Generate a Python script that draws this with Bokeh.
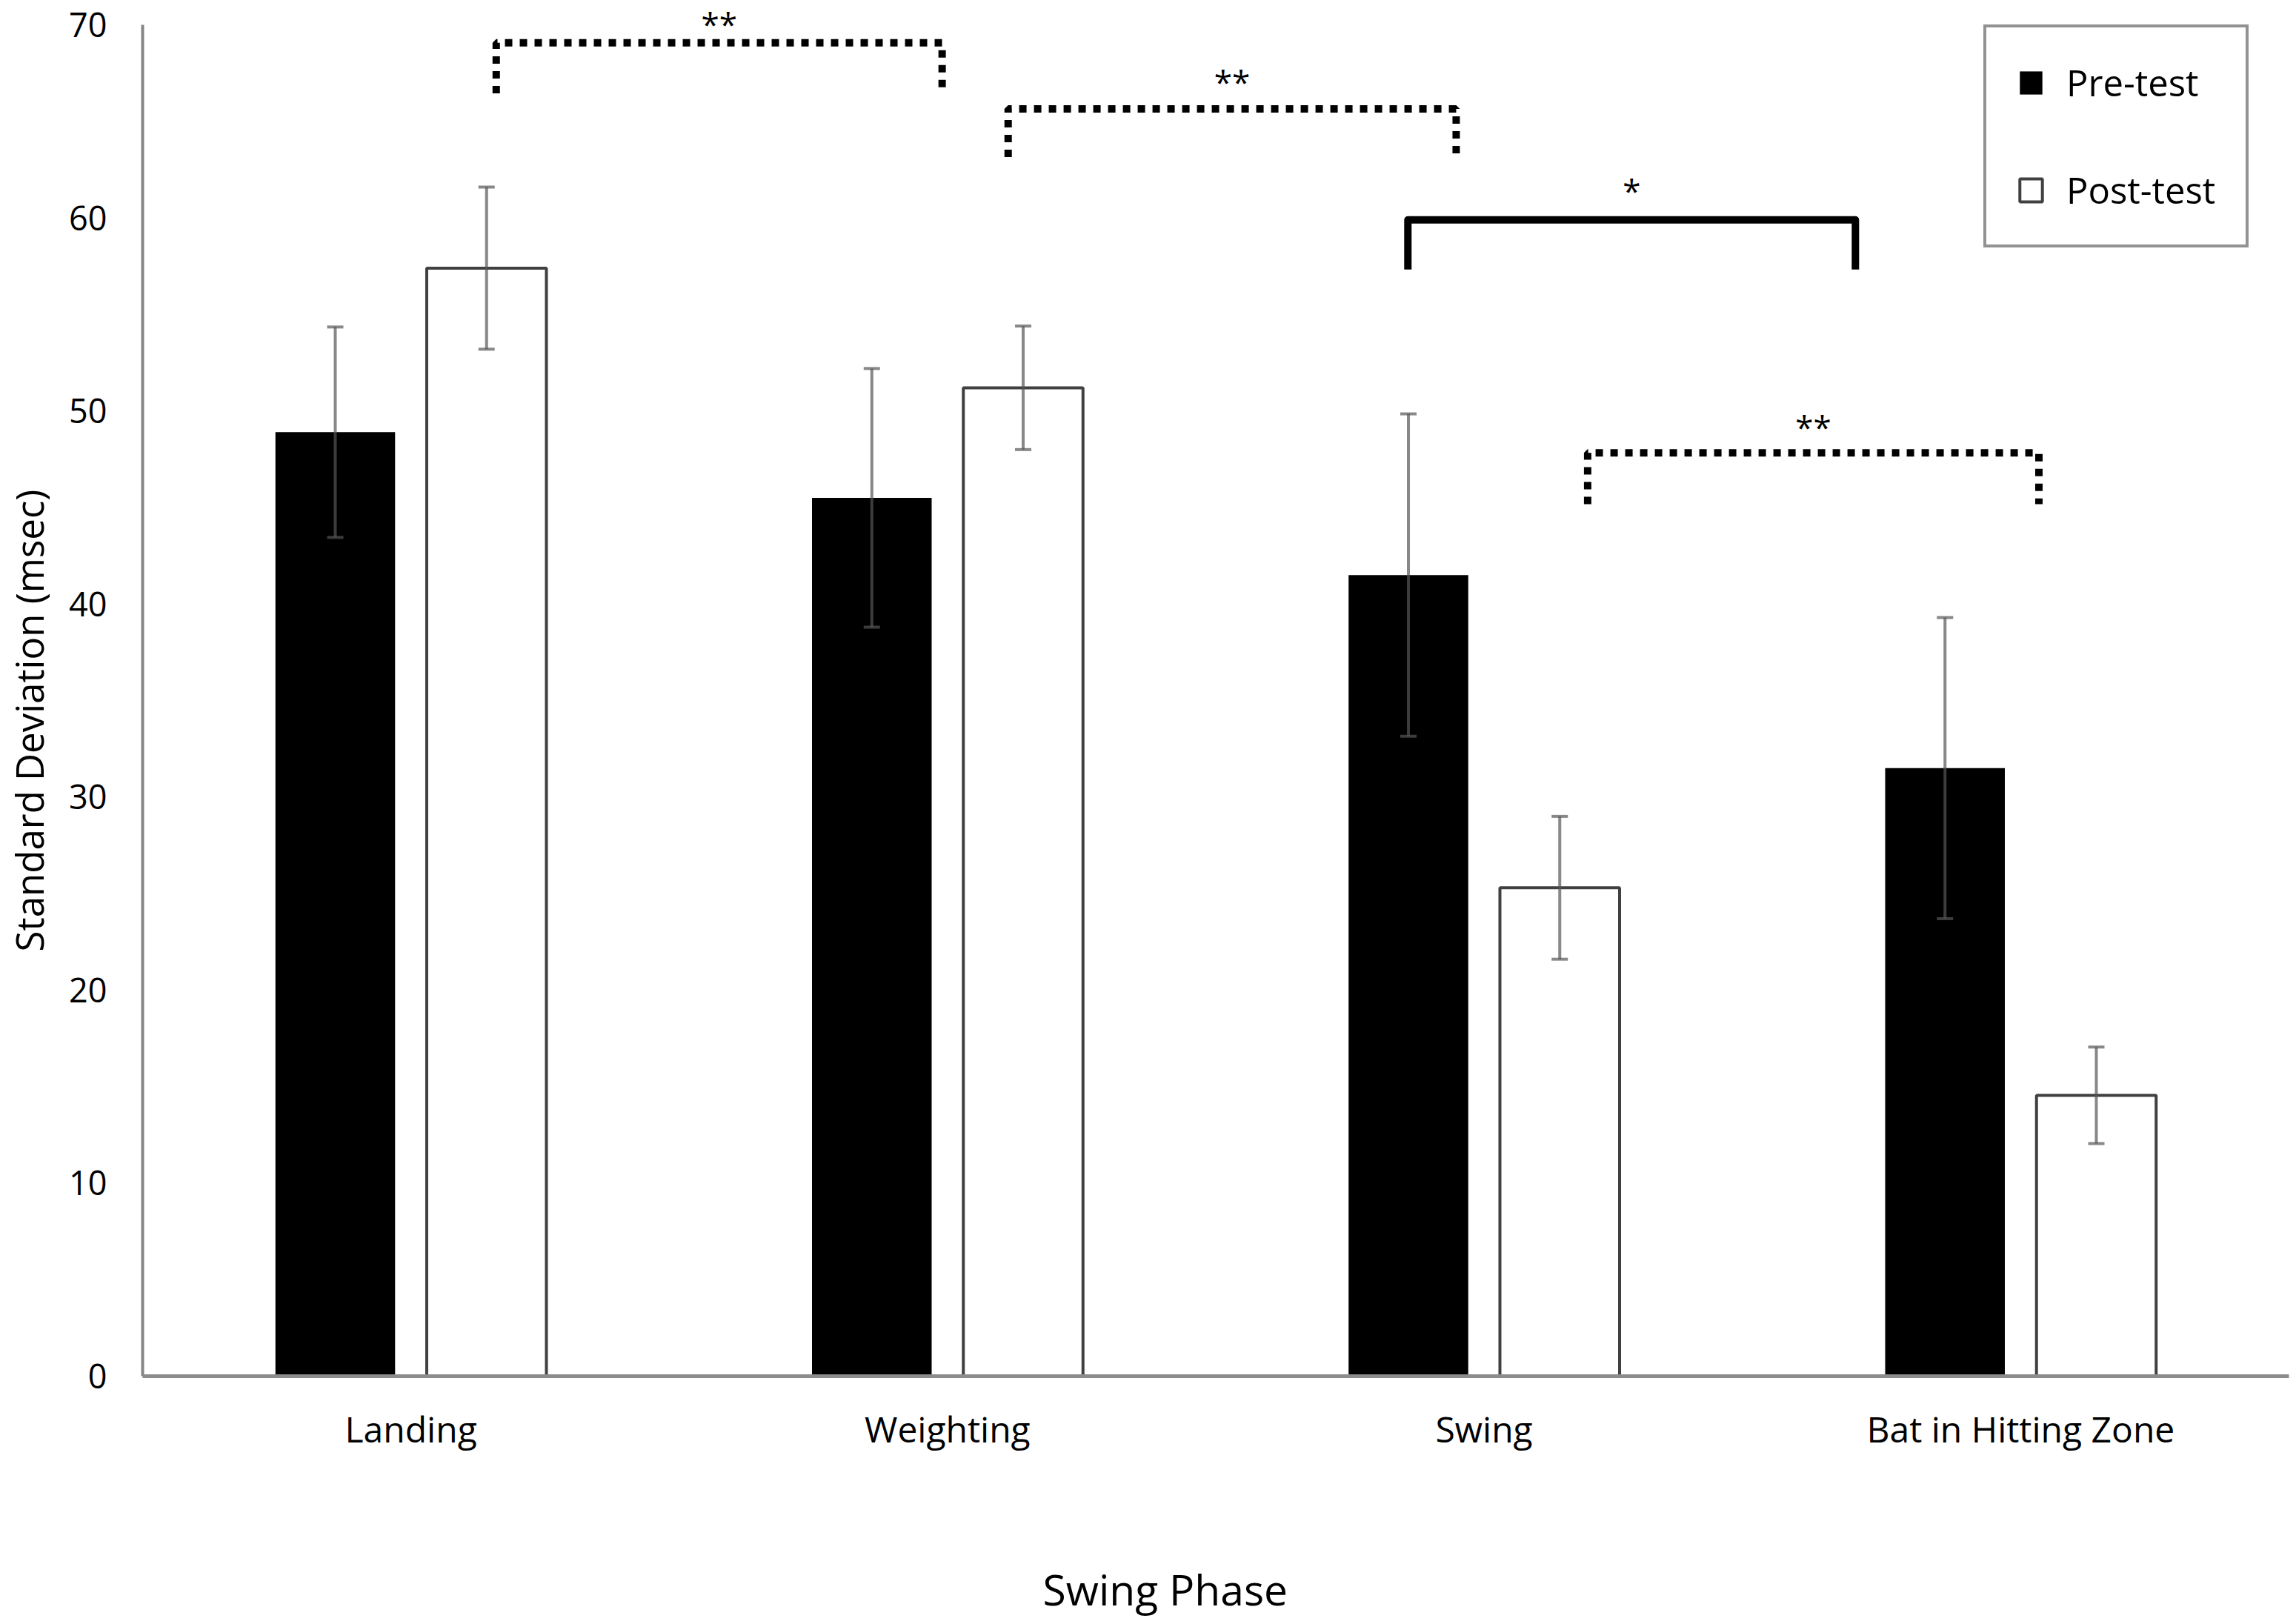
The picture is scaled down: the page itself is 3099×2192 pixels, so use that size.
from bokeh.plotting import figure
from bokeh.models import ColumnDataSource, Whisker, TeeHead, FixedTicker, Title, LinearAxis
from bokeh.embed import file_html
from bokeh.resources import INLINE
from bokeh.core.properties import value

# ---------------- data ----------------
categories = ["Landing", "Weighting", "Swing", "Bat in Hitting Zone"]
pre_test = [48.9, 45.5, 41.5, 31.5]
pre_err = [5.45, 6.7, 8.35, 7.8]
post_test = [57.4, 51.2, 25.3, 14.55]
post_err = [4.2, 3.2, 3.7, 2.5]
y_ticks = [0, 10, 20, 30, 40, 50, 60, 70]

# significance brackets (x in category units, y in msec)
bracket_start = [0.659, 1.613, 2.358, 2.693]
bracket_end = [1.490, 2.448, 3.192, 3.534]
bracket_top = [69.07, 65.65, 59.9, 47.83]
bracket_foot = [66.45, 63.15, 57.33, 45.17]
bracket_label = ["**", "**", "*", "**"]
bracket_label_y = [70.3, 67.3, 61.67, 49.4]
bracket_dotted = [True, True, False, True]

FONT = "Open Sans"
OFFSET = 0.141
BAR_W = 0.223

pre_x = [i + 0.5 - OFFSET for i in range(len(categories))]
post_x = [i + 0.5 + OFFSET for i in range(len(categories))]

pre_src = ColumnDataSource(dict(
    x=pre_x, top=pre_test,
    upper=[m + e for m, e in zip(pre_test, pre_err)],
    lower=[m - e for m, e in zip(pre_test, pre_err)]))
post_src = ColumnDataSource(dict(
    x=post_x, top=post_test,
    upper=[m + e for m, e in zip(post_test, post_err)],
    lower=[m - e for m, e in zip(post_test, post_err)]))

p = figure(width=3091, height=2184, x_range=(0, len(categories)), y_range=(0, 71.27),
           output_backend="svg", toolbar_location=None,
           min_border_left=192, min_border_right=2, min_border_top=0, min_border_bottom=327)
p.outline_line_color = None
p.xgrid.grid_line_color = None
p.ygrid.grid_line_color = None
p.background_fill_color = "white"
p.border_fill_color = "white"

# bars
p.vbar(x="x", top="top", width=BAR_W, source=pre_src, fill_color="black",
       line_color=None, legend_label="Pre-test")
p.vbar(x="x", top="top", width=BAR_W, source=post_src, fill_color="white",
       line_color="#404040", line_width=4, legend_label="Post-test")

# error bars
for src in (pre_src, post_src):
    w = Whisker(base="x", upper="upper", lower="lower", source=src, level="overlay",
                line_color="#555555", line_alpha=0.7, line_width=4,
                upper_head=TeeHead(size=22, line_color="#555555", line_alpha=0.7, line_width=4),
                lower_head=TeeHead(size=22, line_color="#555555", line_alpha=0.7, line_width=4))
    p.add_layout(w)

# brackets
dot_xs, dot_ys, sol_xs, sol_ys = [], [], [], []
for x0, x1, t, f, d in zip(bracket_start, bracket_end, bracket_top, bracket_foot, bracket_dotted):
    xs = [x0, x0, x1, x1]
    ys = [f, t, t, f]
    if d:
        dot_xs.append(xs); dot_ys.append(ys)
    else:
        sol_xs.append(xs); sol_ys.append(ys)
p.multi_line(xs=dot_xs, ys=dot_ys, line_color="black", line_width=10,
             line_dash="10 10", line_cap="butt")
p.multi_line(xs=sol_xs, ys=sol_ys, line_color="black", line_width=10,
             line_join="round", line_cap="butt")

star_src = ColumnDataSource(dict(
    x=[(a + b) / 2 for a, b in zip(bracket_start, bracket_end)],
    y=[v - 0.23 for v in bracket_label_y],
    text=bracket_label))
p.text(x="x", y="y", text="text", source=star_src, text_align="center",
       text_baseline="middle", text_font=value(FONT), text_font_size="44px",
       text_color="black")

# x axis
xa = p.xaxis[0]
xa.ticker = FixedTicker(ticks=[i + 0.5 for i in range(len(categories))])
xa.major_label_overrides = {i + 0.5: c for i, c in enumerate(categories)}
xa.axis_line_color = "#8c8c8c"
xa.axis_line_width = 5
xa.major_tick_line_color = None
xa.minor_tick_line_color = None
xa.major_tick_out = 0
xa.major_tick_in = 0
xa.major_label_text_font = FONT
xa.major_label_text_font_size = "48px"
xa.major_label_text_color = "black"
xa.major_label_standoff = 38

# y axis
ya = p.yaxis[0]
ya.ticker = FixedTicker(ticks=y_ticks)
ya.bounds = (y_ticks[0], y_ticks[-1])
ya.axis_line_color = "#868686"
ya.axis_line_width = 4
ya.major_tick_line_color = None
ya.minor_tick_line_color = None
ya.major_tick_out = 0
ya.major_tick_in = 0
ya.major_label_text_font = FONT
ya.major_label_text_font_size = "45px"
ya.major_label_text_color = "black"
ya.major_label_standoff = 48


def spacer_axis(gap):
    # a blank axis (one white tick, no label) that only reserves space before the axis title
    return LinearAxis(ticker=FixedTicker(ticks=[0], minor_ticks=[]), axis_line_color=None,
                      major_tick_line_color="white", minor_tick_line_color=None,
                      major_tick_out=gap, major_tick_in=0, minor_tick_out=0,
                      major_label_overrides={0: ""}, major_label_standoff=0,
                      major_label_text_font_size="1px")


p.add_layout(spacer_axis(140), "below")
p.add_layout(spacer_axis(17), "left")

# axis titles, offset along the axis like the reference
x_title = Title(text="Swing Phase", align="left", offset=1215, standoff=0,
                text_font=FONT, text_font_size="57px", text_font_style="normal",
                text_color="black")
p.add_layout(x_title, "below")
y_title = Title(text="Standard Deviation (msec)", align="left", offset=573, standoff=0,
                text_font=FONT, text_font_size="51px", text_font_style="normal",
                text_color="black")
p.add_layout(y_title, "left")

# legend
lg = p.legend[0]
lg.location = (2485, 1523)
lg.margin = 0
lg.padding = 41
lg.spacing = 79
lg.glyph_width = 38
lg.glyph_height = 39
lg.label_height = 31
lg.label_width = 195
lg.label_standoff = 29
lg.label_text_font = FONT
lg.label_text_font_size = "49px"
lg.label_text_color = "black"
lg.border_line_color = "#262626"
lg.border_line_width = 4
lg.background_fill_color = "white"
lg.background_fill_alpha = 1.0

open("out.html", "w").write(file_html(p, INLINE))
